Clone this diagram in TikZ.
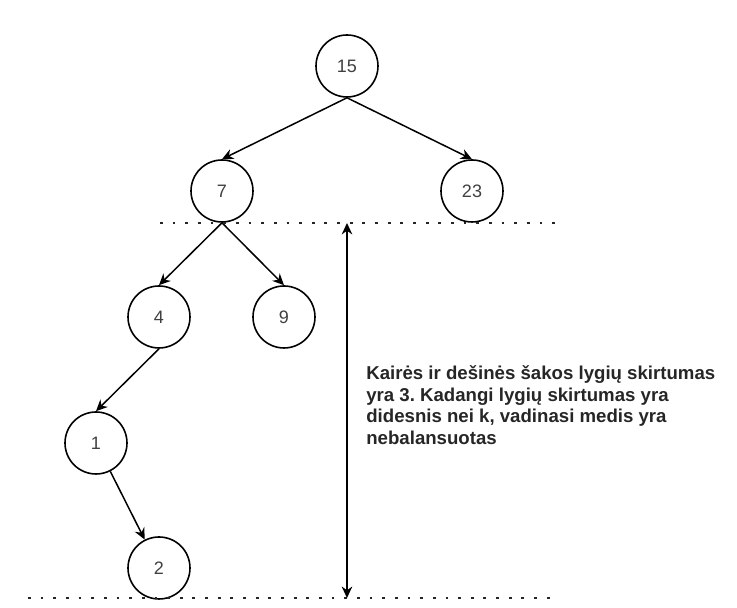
\documentclass[tikz,border=0pt]{standalone}
\usepackage{fontspec}
\setmainfont{Liberation Sans}
\usetikzlibrary{arrows.meta}
\frenchspacing
\tikzset{vx/.style={circle, draw, line width=.9pt, minimum size=1.24cm, inner sep=0pt, font=\fontsize{10.25}{12.3}\selectfont, text=black!75}}
\tikzset{edge/.style={color=black, line width=.85pt, -{Stealth[length=6.5pt, width=6pt]}}}
\tikzset{dotline/.style={color=black!85, line width=1.6pt, dash pattern=on 1.6pt off 5.6pt}}

\begin{document}
\begin{tikzpicture}
  \useasboundingbox (0,0) rectangle (14.74,12.16);
  % tree
  \node[vx] (n15) at (6.94,10.84) {15};
  \node[vx] (n7)  at (4.44,8.34) {7};
  \node[vx] (n23) at (9.44,8.34) {23};
  \node[vx] (n4)  at (3.18,5.82) {4};
  \node[vx] (n9)  at (5.68,5.82) {9};
  \node[vx] (n1)  at (1.92,3.30) {1};
  \node[vx] (n2)  at (3.18,0.80) {2};

  \draw[edge] (n15.south) -- (n7.north);
  \draw[edge] (n15.south) -- (n23.north);
  \draw[edge] (n7.south) -- (n4.north);
  \draw[edge] (n7.south) -- (n9.north);
  \draw[edge] (n4.south) -- (n1.north);
  \draw[edge] (n1) -- (n2);

  % level lines
  \coordinate (upL) at (3.20,7.70);
  \coordinate (upR) at (11.28,7.70);
  \coordinate (loL) at (0.56,0.20);
  \coordinate (loR) at (11.14,0.20);
  \draw[dotline] (upL) -- (upR);
  \draw[dotline] (loL) -- (loR);

  \coordinate (dimT) at (6.94,7.70);
  \coordinate (dimB) at (6.94,0.20);
  \draw[edge, {Stealth[length=6.5pt, width=6pt]}-{Stealth[length=6.5pt, width=6pt]}] (dimT) -- (dimB);

  \node[anchor=north west, inner sep=0pt, align=left, font=\bfseries\fontsize{10.6}{12.4}\selectfont, text=black!85] (note) at (7.32,4.86)
    {Kairės ir dešinės šakos lygių skirtumas\\
     yra 3. Kadangi lygių skirtumas yra\\
     didesnis nei k, vadinasi medis yra\\
     nebalansuotas};
\end{tikzpicture}
\end{document}
